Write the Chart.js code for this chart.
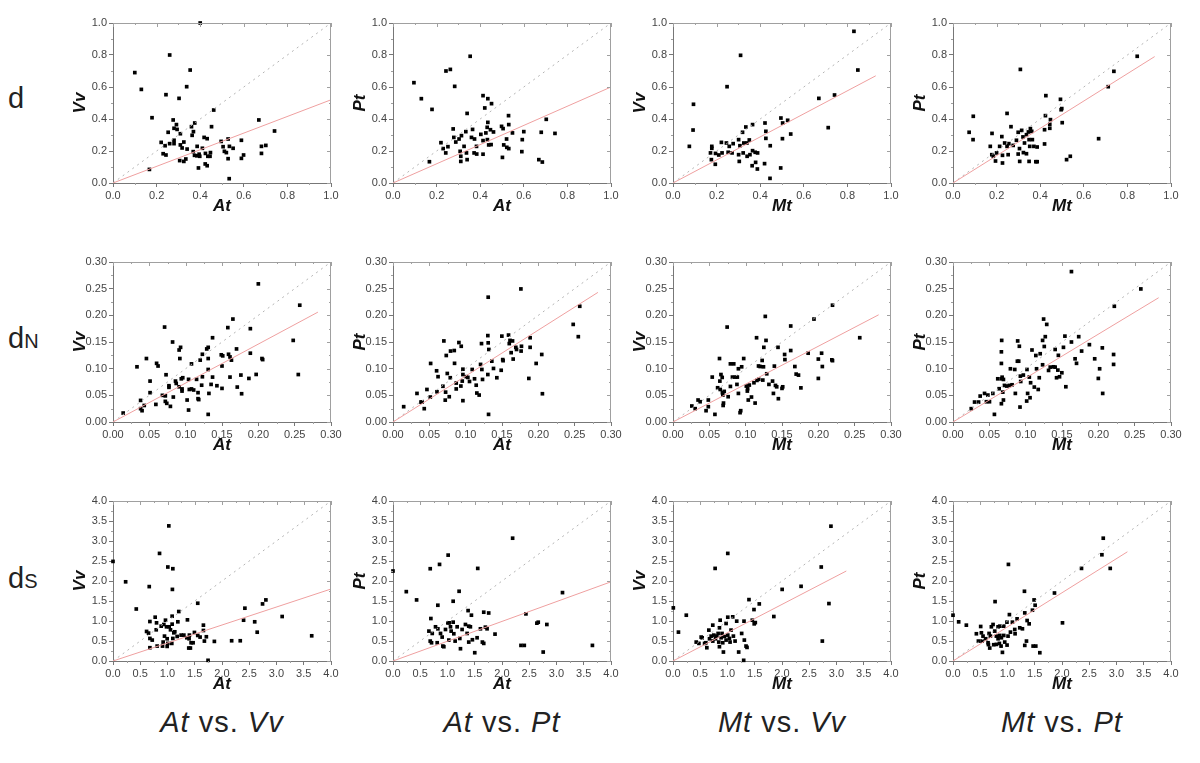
<!DOCTYPE html>
<html lang="en">
<head>
<meta charset="UTF-8">
<title>Scatter grid: At / Mt vs Vv / Pt</title>
<style>
  body { margin: 0; background: #fff; font-family: "Liberation Sans", Arial, sans-serif; }
  .wrap { position: relative; width: 1200px; height: 763px; overflow: hidden; }
  .wrap canvas { position: absolute; }
  .rowlab { position: absolute; left: 8px; font-size: 29px; color: #222; line-height: 1; }
  .rowlab span { font-size: 20px; }
  .collab { position: absolute; top: 706px; width: 280px; text-align: center; font-size: 29px; color: #222; letter-spacing: 1px; }
</style>
</head>
<body>
<div class="wrap" id="wrap">
  <div class="rowlab" style="top:84px">d</div>
  <div class="rowlab" style="top:324px">d<span>N</span></div>
  <div class="rowlab" style="top:564px">d<span>S</span></div>
  <div class="collab" style="left:82px"><i>At</i> vs. <i>Vv</i></div>
  <div class="collab" style="left:362px"><i>At</i> vs. <i>Pt</i></div>
  <div class="collab" style="left:642px"><i>Mt</i> vs. <i>Vv</i></div>
  <div class="collab" style="left:922px"><i>Mt</i> vs. <i>Pt</i></div>
</div>

<script src="https://cdn.jsdelivr.net/npm/chart.js"></script>
<script>
  // axis settings per row (d, dN, dS)
  const rowMax = [1.0, 0.30, 4.0];
  const rowStep = [0.2, 0.05, 0.5];
  const rowDecimals = [1, 2, 1];
  // axis titles per column
  const colX = ['At', 'At', 'Mt', 'Mt'];
  const colY = ['Vv', 'Pt', 'Vv', 'Pt'];

  // end point of the red fitted line through the origin, per panel
  const fitEnds = [
    [[1.0, 0.52], [1.0, 0.60], [0.93, 0.67], [0.925, 0.79]],
    [[0.282, 0.206], [0.282, 0.243], [0.283, 0.201], [0.283, 0.233]],
    [[4.0, 1.80], [4.0, 1.98], [3.18, 2.25], [3.2, 2.73]]
  ];

  // ---- row d ----
  const dAtVv = [[0.40,1.00],[0.26,0.80],[0.10,0.69],[0.13,0.585],[0.354,0.706],[0.338,0.602],[0.243,0.552],[0.303,0.529],[0.179,0.408],[0.462,0.456],[0.276,0.394],[0.669,0.394],[0.741,0.325],[0.452,0.352],[0.291,0.365],[0.375,0.375],[0.36,0.352],[0.28,0.342],[0.294,0.335],[0.253,0.317],[0.309,0.308],[0.369,0.321],[0.363,0.298],[0.221,0.254],[0.239,0.233],[0.26,0.246],[0.28,0.267],[0.28,0.246],[0.309,0.238],[0.325,0.256],[0.23,0.183],[0.243,0.175],[0.317,0.219],[0.34,0.212],[0.306,0.14],[0.325,0.135],[0.334,0.15],[0.386,0.229],[0.368,0.196],[0.374,0.173],[0.398,0.167],[0.418,0.285],[0.432,0.277],[0.41,0.217],[0.424,0.185],[0.435,0.167],[0.447,0.19],[0.445,0.167],[0.423,0.119],[0.432,0.108],[0.392,0.094],[0.496,0.26],[0.505,0.227],[0.511,0.198],[0.52,0.19],[0.528,0.275],[0.534,0.229],[0.551,0.217],[0.589,0.267],[0.599,0.175],[0.589,0.154],[0.528,0.152],[0.533,0.027],[0.681,0.229],[0.701,0.235],[0.681,0.185],[0.167,0.085],[0.385,0.17],[0.395,0.18]];
  const dAtPt = [[0.354,0.792],[0.096,0.627],[0.13,0.527],[0.179,0.46],[0.243,0.70],[0.263,0.71],[0.283,0.604],[0.413,0.546],[0.435,0.527],[0.421,0.469],[0.34,0.435],[0.452,0.496],[0.53,0.421],[0.703,0.398],[0.167,0.133],[0.22,0.252],[0.23,0.215],[0.242,0.188],[0.252,0.227],[0.276,0.338],[0.279,0.285],[0.288,0.256],[0.303,0.275],[0.314,0.296],[0.308,0.198],[0.311,0.167],[0.311,0.135],[0.326,0.229],[0.337,0.188],[0.34,0.146],[0.334,0.321],[0.365,0.335],[0.36,0.285],[0.374,0.275],[0.383,0.229],[0.372,0.188],[0.384,0.181],[0.403,0.304],[0.413,0.265],[0.426,0.313],[0.432,0.348],[0.435,0.379],[0.447,0.333],[0.461,0.319],[0.433,0.271],[0.439,0.238],[0.45,0.24],[0.413,0.18],[0.498,0.354],[0.505,0.34],[0.531,0.365],[0.548,0.313],[0.521,0.275],[0.508,0.238],[0.522,0.223],[0.531,0.215],[0.502,0.16],[0.593,0.271],[0.60,0.321],[0.591,0.196],[0.68,0.317],[0.743,0.31],[0.669,0.146],[0.685,0.131]];
  const dMtVv = [[0.83,0.948],[0.848,0.706],[0.741,0.55],[0.669,0.529],[0.712,0.346],[0.31,0.798],[0.248,0.602],[0.094,0.492],[0.092,0.331],[0.075,0.229],[0.178,0.229],[0.178,0.217],[0.194,0.117],[0.176,0.146],[0.172,0.188],[0.195,0.185],[0.21,0.175],[0.225,0.188],[0.222,0.254],[0.245,0.25],[0.258,0.229],[0.253,0.192],[0.271,0.188],[0.276,0.246],[0.301,0.271],[0.307,0.233],[0.301,0.177],[0.304,0.135],[0.319,0.317],[0.334,0.35],[0.325,0.25],[0.339,0.25],[0.35,0.269],[0.322,0.188],[0.34,0.167],[0.353,0.177],[0.365,0.365],[0.365,0.202],[0.377,0.192],[0.388,0.188],[0.363,0.108],[0.379,0.129],[0.387,0.0875],[0.422,0.375],[0.426,0.323],[0.426,0.279],[0.42,0.121],[0.446,0.233],[0.445,0.029],[0.495,0.406],[0.503,0.375],[0.526,0.392],[0.54,0.306],[0.502,0.277],[0.494,0.094]];
  const dMtPt = [[0.845,0.792],[0.738,0.698],[0.712,0.602],[0.668,0.277],[0.309,0.71],[0.426,0.546],[0.493,0.523],[0.499,0.465],[0.496,0.458],[0.501,0.377],[0.424,0.421],[0.447,0.396],[0.444,0.367],[0.444,0.342],[0.42,0.333],[0.42,0.244],[0.248,0.435],[0.266,0.352],[0.093,0.417],[0.074,0.317],[0.092,0.271],[0.179,0.31],[0.171,0.229],[0.178,0.177],[0.185,0.167],[0.195,0.1375],[0.20,0.188],[0.224,0.29],[0.214,0.229],[0.227,0.173],[0.227,0.125],[0.237,0.25],[0.248,0.229],[0.256,0.246],[0.253,0.177],[0.276,0.235],[0.291,0.267],[0.299,0.317],[0.305,0.215],[0.299,0.181],[0.306,0.135],[0.315,0.329],[0.321,0.288],[0.328,0.25],[0.337,0.302],[0.346,0.319],[0.355,0.34],[0.361,0.323],[0.349,0.271],[0.352,0.229],[0.337,0.183],[0.349,0.135],[0.371,0.229],[0.38,0.133],[0.386,0.133],[0.386,0.225],[0.521,0.146],[0.538,0.167],[0.323,0.19],[0.364,0.271]];

  // ---- row dN ----
  const dnAtVv = [[0.2,0.259],[0.257,0.219],[0.165,0.193],[0.158,0.177],[0.189,0.175],[0.071,0.178],[0.082,0.150],[0.137,0.158],[0.248,0.153],[0.255,0.089],[0.091,0.135],[0.093,0.140],[0.129,0.137],[0.131,0.140],[0.17,0.137],[0.033,0.1035],[0.046,0.119],[0.06,0.110],[0.062,0.105],[0.092,0.119],[0.108,0.109],[0.12,0.116],[0.123,0.127],[0.131,0.119],[0.149,0.126],[0.151,0.124],[0.159,0.127],[0.161,0.122],[0.163,0.116],[0.189,0.129],[0.205,0.119],[0.206,0.117],[0.15,0.105],[0.131,0.0985],[0.073,0.0886],[0.051,0.0767],[0.094,0.081],[0.096,0.083],[0.104,0.080],[0.115,0.080],[0.123,0.0848],[0.137,0.0842],[0.161,0.0842],[0.176,0.088],[0.187,0.0817],[0.197,0.0892],[0.086,0.0767],[0.087,0.0723],[0.077,0.068],[0.077,0.065],[0.091,0.066],[0.095,0.062],[0.095,0.058],[0.105,0.061],[0.108,0.062],[0.111,0.060],[0.117,0.055],[0.122,0.069],[0.135,0.0705],[0.143,0.068],[0.15,0.063],[0.171,0.0655],[0.177,0.053],[0.132,0.0536],[0.117,0.0437],[0.118,0.042],[0.102,0.0412],[0.083,0.0468],[0.068,0.050],[0.072,0.049],[0.051,0.055],[0.059,0.033],[0.072,0.0387],[0.074,0.035],[0.079,0.0293],[0.043,0.031],[0.038,0.0405],[0.038,0.025],[0.04,0.0212],[0.014,0.0168],[0.104,0.0224],[0.131,0.0143]];
  const dnAtPt = [[0.176,0.2495],[0.131,0.234],[0.257,0.217],[0.248,0.183],[0.255,0.16],[0.07,0.152],[0.0147,0.0287],[0.033,0.0536],[0.0385,0.0374],[0.040,0.0374],[0.043,0.025],[0.0467,0.061],[0.0513,0.0468],[0.0518,0.1098],[0.06,0.096],[0.062,0.085],[0.0605,0.0567],[0.0687,0.067],[0.0724,0.056],[0.0719,0.041],[0.0733,0.1247],[0.0747,0.091],[0.0774,0.0474],[0.0788,0.083],[0.0792,0.133],[0.0843,0.134],[0.0847,0.110],[0.087,0.062],[0.087,0.073],[0.0907,0.149],[0.0939,0.142],[0.0934,0.0674],[0.0953,0.0767],[0.0962,0.089],[0.0962,0.099],[0.0962,0.040],[0.1008,0.085],[0.103,0.0836],[0.1053,0.076],[0.109,0.0985],[0.1122,0.081],[0.1145,0.069],[0.1154,0.0543],[0.1186,0.0505],[0.1205,0.108],[0.1218,0.147],[0.1223,0.0985],[0.1232,0.0798],[0.1305,0.162],[0.131,0.1484],[0.1319,0.136],[0.1305,0.089],[0.1315,0.0143],[0.136,0.114],[0.1383,0.1004],[0.1429,0.083],[0.1489,0.097],[0.151,0.117],[0.1515,0.115],[0.1498,0.161],[0.159,0.163],[0.16,0.147],[0.161,0.153],[0.1645,0.152],[0.1626,0.130],[0.1654,0.118],[0.169,0.140],[0.170,0.136],[0.1768,0.142],[0.1763,0.133],[0.1887,0.158],[0.1887,0.140],[0.1869,0.0817],[0.197,0.1098],[0.2047,0.1266],[0.2056,0.053]];
  const dnMtVv = [[0.2195,0.219],[0.194,0.193],[0.127,0.198],[0.162,0.180],[0.0745,0.178],[0.257,0.158],[0.115,0.158],[0.128,0.153],[0.125,0.140],[0.1445,0.140],[0.162,0.134],[0.1536,0.1266],[0.154,0.117],[0.186,0.129],[0.2045,0.129],[0.2,0.118],[0.2186,0.1166],[0.2195,0.115],[0.2055,0.104],[0.200,0.0817],[0.1677,0.104],[0.1695,0.0898],[0.1727,0.0879],[0.176,0.064],[0.064,0.119],[0.079,0.109],[0.0836,0.109],[0.0973,0.119],[0.0945,0.1035],[0.09,0.0998],[0.1177,0.105],[0.12,0.104],[0.1227,0.1154],[0.1245,0.1035],[0.1395,0.1048],[0.129,0.0904],[0.066,0.089],[0.0677,0.0836],[0.054,0.0842],[0.0818,0.0842],[0.0859,0.0842],[0.0885,0.0842],[0.088,0.0705],[0.079,0.0667],[0.0645,0.0767],[0.0614,0.0642],[0.065,0.061],[0.0705,0.0574],[0.068,0.0549],[0.1009,0.0674],[0.105,0.0692],[0.1027,0.0624],[0.1023,0.058],[0.1114,0.0736],[0.1155,0.078],[0.118,0.080],[0.1236,0.0786],[0.132,0.0705],[0.137,0.0767],[0.141,0.0686],[0.1427,0.066],[0.15,0.063],[0.151,0.066],[0.1382,0.0536],[0.145,0.0437],[0.1036,0.0412],[0.108,0.0468],[0.113,0.0355],[0.09,0.0536],[0.0923,0.0175],[0.0932,0.0212],[0.0577,0.0143],[0.0686,0.0505],[0.0695,0.0355],[0.069,0.031],[0.0759,0.0474],[0.0486,0.0412],[0.0486,0.0287],[0.0455,0.0212],[0.0345,0.0412],[0.0373,0.038],[0.0259,0.030],[0.0305,0.025]];
  const dnMtPt = [[0.163,0.282],[0.2585,0.2495],[0.222,0.217],[0.1247,0.193],[0.129,0.183],[0.127,0.160],[0.067,0.153],[0.089,0.152],[0.0913,0.142],[0.1233,0.153],[0.1256,0.1416],[0.154,0.161],[0.173,0.160],[0.163,0.150],[0.177,0.133],[0.1877,0.145],[0.0666,0.1316],[0.1087,0.135],[0.114,0.1247],[0.120,0.128],[0.1406,0.136],[0.152,0.140],[0.145,0.125],[0.168,0.1185],[0.170,0.110],[0.195,0.1185],[0.2055,0.139],[0.221,0.1266],[0.221,0.108],[0.2018,0.0998],[0.200,0.0817],[0.206,0.0536],[0.0666,0.1098],[0.0886,0.114],[0.0904,0.114],[0.1233,0.1073],[0.115,0.0998],[0.079,0.0998],[0.085,0.0985],[0.1018,0.0985],[0.1315,0.0967],[0.1338,0.1029],[0.1384,0.1035],[0.1406,0.1029],[0.1443,0.0973],[0.1498,0.0923],[0.1425,0.083],[0.1466,0.0848],[0.1187,0.083],[0.105,0.0842],[0.1068,0.0736],[0.0927,0.086],[0.0968,0.088],[0.0932,0.076],[0.0813,0.0698],[0.0776,0.0686],[0.074,0.0674],[0.0708,0.0686],[0.0694,0.0798],[0.0666,0.081],[0.0616,0.081],[0.0676,0.084],[0.0635,0.0624],[0.0685,0.056],[0.0694,0.0412],[0.0666,0.0343],[0.0858,0.0536],[0.1027,0.0536],[0.106,0.0455],[0.1014,0.0393],[0.0922,0.028],[0.057,0.0143],[0.1119,0.0655],[0.1173,0.061],[0.1553,0.0661],[0.0251,0.025],[0.0297,0.0374],[0.0352,0.0374],[0.0374,0.0486],[0.0434,0.0536],[0.048,0.0505],[0.0502,0.038],[0.046,0.038],[0.0548,0.0536]];

  // ---- row dS ----
  const dsAtVv = [[1.024,3.378],[0.854,2.69],[1.006,2.35],[1.098,2.307],[0.0,2.49],[0.232,1.98],[0.665,1.86],[1.09,1.79],[0.427,1.30],[1.555,1.444],[2.805,1.527],[2.744,1.427],[2.42,1.32],[2.396,1.02],[2.6,0.98],[2.646,0.72],[3.104,1.112],[3.646,0.63],[1.207,1.237],[0.677,0.987],[0.774,1.095],[0.616,0.739],[0.652,0.697],[0.677,0.564],[0.72,0.523],[0.677,0.332],[0.81,0.373],[0.793,0.78],[0.799,0.954],[0.884,0.871],[0.933,0.913],[0.982,0.855],[0.963,1.02],[1.03,0.855],[1.055,0.78],[1.085,0.921],[1.116,0.705],[1.085,1.12],[1.19,0.98],[1.134,0.73],[1.25,0.647],[1.177,0.614],[0.994,0.556],[0.945,0.622],[0.92,0.473],[0.909,0.373],[0.994,0.365],[1.006,0.44],[1.079,0.44],[1.098,0.564],[1.366,1.029],[1.30,0.647],[1.354,0.581],[1.402,0.647],[1.396,0.556],[1.433,0.456],[1.47,0.456],[1.494,0.714],[1.555,0.639],[1.598,0.598],[1.659,0.896],[1.659,0.763],[1.677,0.498],[1.713,0.606],[1.39,0.324],[1.42,0.324],[1.744,0.017],[1.86,0.49],[2.177,0.506],[2.335,0.506]];
  const dsAtPt = [[0.0,2.25],[2.195,3.07],[1.012,2.647],[0.854,2.415],[0.683,2.307],[1.555,2.315],[0.244,1.734],[0.433,1.527],[1.213,1.743],[3.11,1.71],[0.823,1.394],[1.104,1.494],[1.378,1.26],[1.439,1.145],[1.665,1.22],[1.756,1.20],[2.439,1.178],[2.64,0.946],[2.665,0.97],[2.823,0.913],[3.659,0.39],[2.756,0.224],[2.348,0.39],[2.409,0.39],[1.872,0.672],[0.695,1.062],[0.659,0.747],[0.72,0.689],[0.683,0.498],[0.707,0.456],[0.78,0.855],[0.823,0.805],[0.811,0.456],[0.872,0.689],[0.902,0.598],[0.915,0.373],[0.933,0.357],[0.963,0.788],[1.006,0.954],[1.03,0.954],[1.104,0.971],[1.055,0.855],[1.067,0.747],[1.024,0.523],[1.116,0.681],[1.14,0.498],[1.177,0.855],[1.226,0.564],[1.238,0.307],[1.268,0.788],[1.329,0.913],[1.36,0.689],[1.39,0.871],[1.42,0.855],[1.39,0.473],[1.457,0.531],[1.50,0.207],[1.543,0.581],[1.604,0.805],[1.64,0.473],[1.665,0.44],[1.695,0.846],[1.726,0.805]];
  const dsMtVv = [[2.898,3.37],[1.005,2.69],[0.773,2.315],[2.72,2.35],[2.35,1.867],[2.003,1.79],[1.394,1.535],[1.583,1.427],[2.861,1.436],[1.486,1.286],[1.85,1.112],[0.006,1.328],[0.244,1.145],[0.1,0.722],[2.74,0.498],[1.455,1.02],[1.49,0.929],[1.51,0.96],[1.005,1.095],[1.096,1.104],[0.865,1.02],[0.974,0.938],[0.73,0.896],[0.852,0.83],[1.065,0.772],[0.658,0.772],[1.169,0.996],[1.303,0.996],[1.26,0.689],[0.426,0.473],[0.475,0.44],[0.517,0.598],[0.535,0.58],[0.603,0.456],[0.621,0.332],[0.67,0.556],[0.7,0.622],[0.749,0.647],[0.779,0.556],[0.804,0.622],[0.828,0.689],[0.84,0.473],[0.852,0.357],[0.883,0.581],[0.9,0.689],[0.913,0.456],[0.944,0.614],[0.974,0.523],[1.005,0.647],[1.035,0.564],[1.047,0.473],[1.108,0.622],[1.139,0.498],[0.925,0.224],[1.205,0.224],[1.309,0.523],[1.34,0.373],[1.358,0.34],[1.297,0.017],[0.58,0.44],[0.73,0.498]];
  const dsMtPt = [[2.757,3.07],[2.732,2.656],[2.358,2.315],[2.885,2.315],[1.017,2.415],[1.862,1.70],[1.311,1.743],[0.772,1.485],[1.488,1.527],[1.507,1.394],[1.458,1.27],[1.317,1.203],[2.009,0.954],[0.0,1.145],[0.104,0.979],[0.245,0.896],[1.035,1.16],[1.176,1.054],[1.36,1.012],[1.397,0.929],[0.99,0.971],[1.09,0.971],[0.931,0.871],[0.86,0.871],[0.735,0.913],[0.704,0.855],[0.827,0.855],[1.225,0.83],[1.274,0.805],[1.133,0.788],[1.054,0.722],[1.139,0.681],[0.429,0.681],[0.508,0.863],[0.521,0.705],[0.551,0.622],[0.60,0.556],[0.662,0.689],[0.686,0.622],[0.766,0.747],[0.796,0.622],[0.827,0.556],[0.858,0.639],[0.888,0.581],[0.931,0.639],[1.01,0.622],[0.466,0.498],[0.533,0.498],[0.643,0.456],[0.674,0.324],[0.796,0.415],[0.851,0.44],[0.882,0.373],[0.907,0.216],[0.949,0.473],[0.992,0.398],[0.65,0.41],[1.348,0.498],[1.317,0.39],[1.47,0.373],[1.519,0.373],[1.593,0.207],[0.747,0.407]];

  const panels = [
    [dAtVv, dAtPt, dMtVv, dMtPt],
    [dnAtVv, dnAtPt, dnMtVv, dnMtPt],
    [dsAtVv, dsAtPt, dsMtVv, dsMtPt]
  ];

  const tickFont = { family: '"Liberation Sans", Arial, sans-serif', size: 11 };
  const titleFont = { family: '"Liberation Sans", Arial, sans-serif', size: 17, weight: 'bold', style: 'italic' };

  // top/right frame lines and the small minor ticks
  const framePlugin = {
    id: 'frame',
    afterDraw(chart) {
      const { ctx, chartArea: a, scales: { x, y } } = chart;
      const max = x.max, step = chart.options.scales.x.ticks.stepSize;
      ctx.save();
      ctx.strokeStyle = '#a0a0a0';
      ctx.lineWidth = 1;
      ctx.beginPath();
      ctx.moveTo(a.left, a.top + 0.5); ctx.lineTo(a.right, a.top + 0.5);
      ctx.moveTo(a.right - 0.5, a.top); ctx.lineTo(a.right - 0.5, a.bottom);
      for (let v = 0; v <= max + 1e-9; v += step / 2) {
        const major = Math.abs(v / step - Math.round(v / step)) < 1e-6;
        const px = Math.round(x.getPixelForValue(v)) + 0.5;
        const py = Math.round(y.getPixelForValue(v)) + 0.5;
        // top and right: inward ticks
        ctx.moveTo(px, a.top); ctx.lineTo(px, a.top + (major ? 4 : 2));
        ctx.moveTo(a.right, py); ctx.lineTo(a.right - (major ? 4 : 2), py);
        if (!major) {
          ctx.moveTo(px, a.bottom); ctx.lineTo(px, a.bottom + 2);
          ctx.moveTo(a.left, py); ctx.lineTo(a.left - 2, py);
        }
      }
      ctx.stroke();
      ctx.restore();
    }
  };

  function makePanel(r, c) {
    const max = rowMax[r], step = rowStep[r], dec = rowDecimals[r];
    const fit = fitEnds[r][c];
    const canvas = document.createElement('canvas');
    canvas.width = 284;
    canvas.height = 218;
    canvas.style.left = (60 + 280 * c) + 'px';
    canvas.style.top = (239 * r) + 'px';
    document.getElementById('wrap').appendChild(canvas);

    const axis = (title, isX) => ({
      type: 'linear',
      min: 0,
      max: max,
      ticks: {
        stepSize: step,
        autoSkip: false,
        maxRotation: 0,
        padding: 2,
        color: '#444',
        font: tickFont,
        callback: v => v.toFixed(dec)
      },
      grid: { drawOnChartArea: false, drawTicks: true, tickLength: 4, color: '#777' },
      border: { color: '#777' },
      title: {
        display: true,
        text: title,
        color: '#111',
        font: titleFont,
        padding: isX ? { top: 0, bottom: 1 } : { top: 10, bottom: 0 }
      },
      afterFit: s => { if (isX) s.height = 35; else s.width = 53; }
    });

    new Chart(canvas, {
      type: 'scatter',
      data: {
        datasets: [
          {
            data: panels[r][c].map(p => ({ x: p[0], y: p[1] })),
            pointStyle: 'rect',
            pointRadius: 2.6,
            backgroundColor: '#000',
            borderWidth: 0,
            clip: false,
            order: 2
          },
          {
            type: 'line',
            data: [{ x: 0, y: 0 }, { x: max, y: max }],
            borderColor: '#b4b4b4',
            borderWidth: 1,
            borderDash: [2, 4],
            pointRadius: 0,
            order: 1
          },
          {
            type: 'line',
            data: [{ x: 0, y: 0 }, { x: fit[0], y: fit[1] }],
            borderColor: '#efa0a0',
            borderWidth: 1,
            pointRadius: 0,
            order: 0
          }
        ]
      },
      options: {
        responsive: false,
        animation: false,
        layout: { padding: { top: 23, right: 13, left: 0, bottom: 0 } },
        plugins: { legend: { display: false }, tooltip: { enabled: false } },
        scales: { x: axis(colX[c], true), y: axis(colY[c], false) }
      },
      plugins: [framePlugin]
    });
  }

  for (let r = 0; r < 3; r++) {
    for (let c = 0; c < 4; c++) makePanel(r, c);
  }
</script>
</body>
</html>
